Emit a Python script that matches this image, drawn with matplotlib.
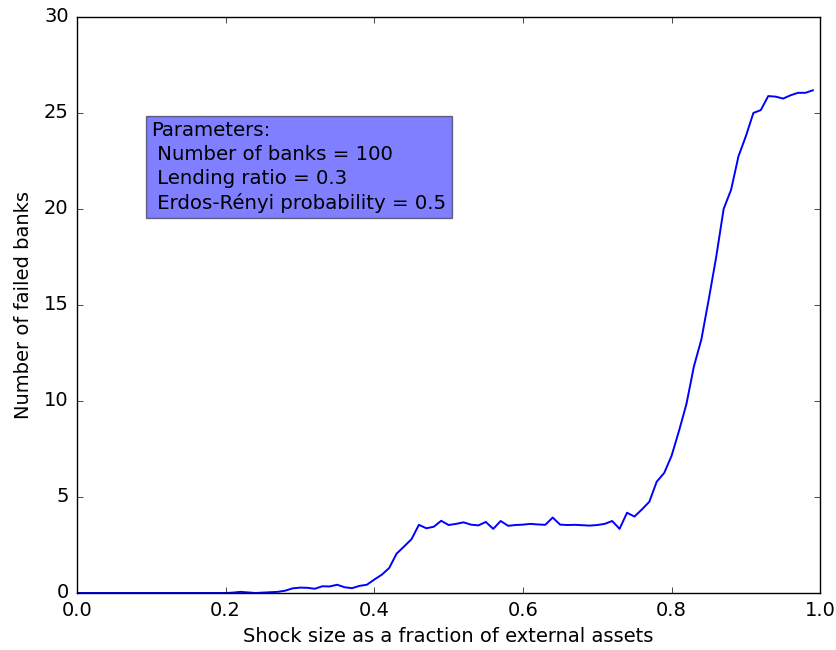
import matplotlib
matplotlib.use("Agg")
import matplotlib.pyplot as plt
import numpy as np

plt.style.use('classic')

shock_size = [round(i * 0.01, 2) for i in range(100)]
failed_banks = [
    0, 0, 0, 0, 0, 0, 0, 0, 0, 0,
    0, 0, 0, 0, 0, 0, 0, 0, 0, 0,
    0, 0.02, 0.06, 0.03, 0.0, 0.02, 0.04, 0.06, 0.12, 0.24,
    0.28, 0.27, 0.22, 0.35, 0.34, 0.43, 0.30, 0.25, 0.37, 0.43,
    0.70, 0.95, 1.30, 2.05, 2.42, 2.80, 3.55, 3.37, 3.45, 3.76,
    3.54, 3.60, 3.68, 3.56, 3.52, 3.70, 3.34, 3.75, 3.50, 3.54,
    3.56, 3.60, 3.57, 3.55, 3.93, 3.56, 3.54, 3.55, 3.53, 3.51,
    3.54, 3.60, 3.75, 3.34, 4.18, 3.98, 4.35, 4.75, 5.80, 6.25,
    7.15, 8.45, 9.85, 11.80, 13.20, 15.30, 17.50, 20.00, 21.00, 22.75,
    23.80, 25.00, 25.15, 25.88, 25.85, 25.75, 25.92, 26.05, 26.05, 26.18,
]

param_text = "Parameters:\n Number of banks = 100\n Lending ratio = 0.3\n Erdos-Rényi probability = 0.5"

fig = plt.figure(figsize=(8.37, 6.5), dpi=100, facecolor='white')
ax = fig.add_axes([0.092, 0.0877, 0.888, 0.8862])
ax.plot(shock_size, failed_banks, color='b', linewidth=1.4)
ax.set_xlim(0, 1)
ax.set_ylim(0, 30)
ax.set_xlabel("Shock size as a fraction of external assets", fontsize=14)
ax.set_ylabel("Number of failed banks", fontsize=14, labelpad=8)
ax.tick_params(labelsize=14, pad=6)
ax.text(0.1, 19.8, param_text, fontsize=14.2, va='bottom', ha='left',
        linespacing=1.32,
        bbox=dict(facecolor='blue', alpha=0.5, edgecolor='black'))

fig.savefig("out.png", dpi=100, facecolor='white')
